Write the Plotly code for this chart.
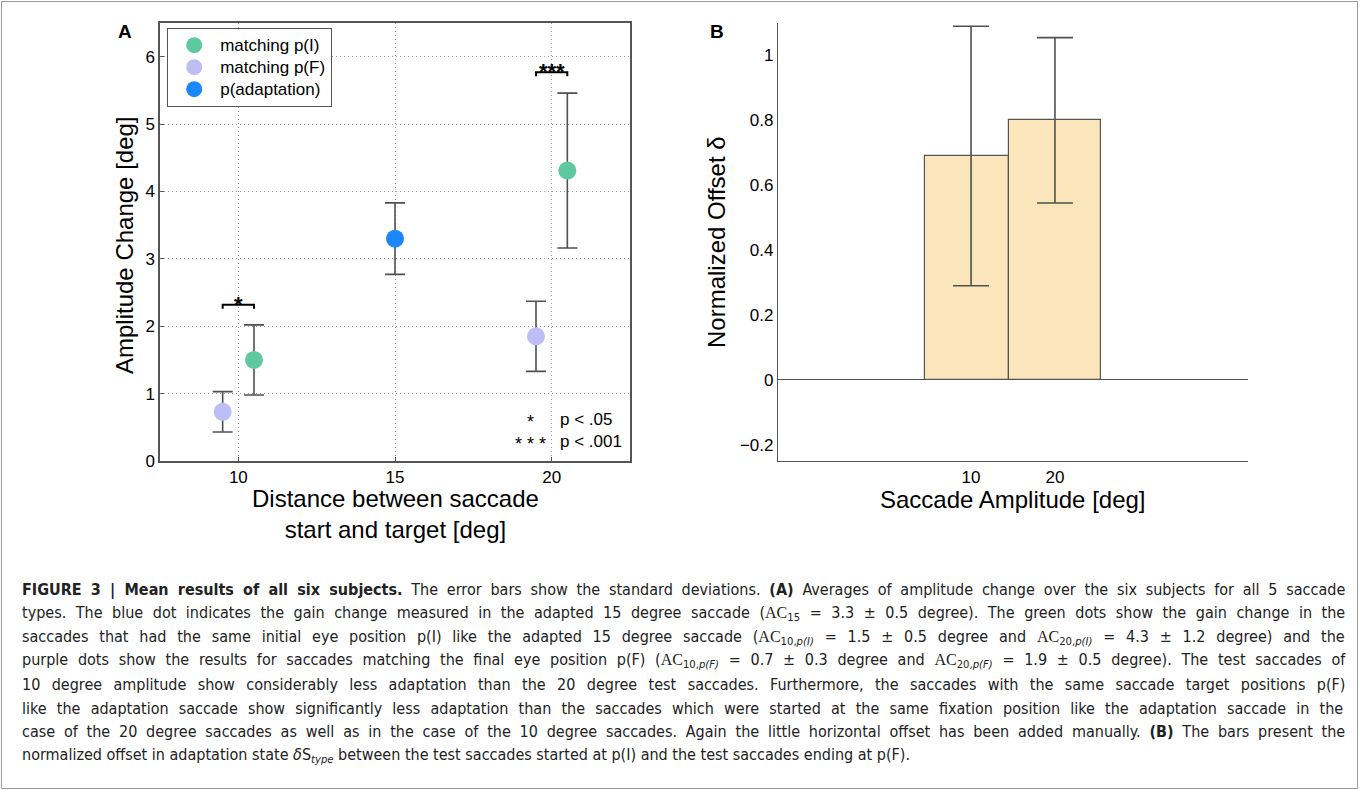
import re
import plotly.graph_objects as go

W, H = 1360, 790

# ---------------- Panel A data ----------------
pI_x = [10.5, 20.5]
pI_y = [1.50, 4.31]
pI_err = [0.52, 1.15]

pF_x = [9.5, 19.5]
pF_y = [0.73, 1.85]
pF_err = [0.30, 0.52]

adapt_x = [15]
adapt_y = [3.30]
adapt_err = [0.53]

sig_x0 = [9.5, 19.5]
sig_x1 = [10.5, 20.5]
sig_y = [2.32, 5.77]
sig_labels = ["*", "***"]

a_xticks = [10, 15, 20]
a_yticks = [0, 1, 2, 3, 4, 5, 6]

# ---------------- Panel B data ----------------
b_x = [10, 20]
b_y = [0.69, 0.80]
b_err = [0.40, 0.255]
b_width = [10, 11]
b_yticks = [-0.2, 0, 0.2, 0.4, 0.6, 0.8, 1]
b_yticktext = ["\u22120.2", "0", "0.2", "0.4", "0.6", "0.8", "1"]

# ---------------- Caption ----------------
SER = "<span style='font-family:Liberation Serif'>AC</span>"
caption_lines = [
    "<b>FIGURE 3 | Mean results of all six subjects.</b> The error bars show the standard deviations. <b>(A)</b> Averages of amplitude change over the six subjects for all 5 saccade",
    "types. The blue dot indicates the gain change measured in the adapted 15 degree saccade (" + SER + "<sub>15</sub> = 3.3 ± 0.5 degree). The green dots show the gain change in the",
    "saccades that had the same initial eye position p(I) like the adapted 15 degree saccade (" + SER + "<sub>10,<i>p(I)</i></sub> = 1.5 ± 0.5 degree and " + SER + "<sub>20,<i>p(I)</i></sub> = 4.3 ± 1.2 degree) and the",
    "purple dots show the results for saccades matching the final eye position p(F) (" + SER + "<sub>10,<i>p(F)</i></sub> = 0.7 ± 0.3 degree and " + SER + "<sub>20,<i>p(F)</i></sub> = 1.9 ± 0.5 degree). The test saccades of",
    "10 degree amplitude show considerably less adaptation than the 20 degree test saccades. Furthermore, the saccades with the same saccade target positions p(F)",
    "like the adaptation saccade show significantly less adaptation than the saccades which were started at the same fixation position like the adaptation saccade in the",
    "case of the 20 degree saccades as well as in the case of the 10 degree saccades. Again the little horizontal offset has been added manually. <b>(B)</b> The bars present the",
    "normalized offset in adaptation state <i>δ</i>S<sub><i>type</i></sub> between the test saccades started at p(I) and the test saccades ending at p(F).",
]
# approximate natural rendered widths (px) at the caption font, used to justify lines
caption_natural_w = [1207, 1181, 1144, 1176, 1175, 1190, 1198, 889]
caption_justify = [True, True, True, True, True, True, True, False]

FONT = "Liberation Sans, Arial, Helvetica, sans-serif"
CAPFONT = "Liberation Sans Narrow, DejaVu Sans Condensed, Arial Narrow, sans-serif"
ERRC = "#505050"

GREEN = "#5ec9a0"
LAV = "#bebef7"
BLUE = "#1a88fb"

fig = go.Figure()

def err(arr):
    return dict(type="data", array=arr, color=ERRC, thickness=1.6, width=10)

def lname(s):
    return "<span style='font-size:17px'>" + s + "</span>"

fig.add_trace(go.Scatter(x=pI_x, y=pI_y, mode="markers", name=lname("matching p(I)"),
                         marker=dict(color=GREEN, size=18), error_y=err(pI_err),
                         xaxis="x", yaxis="y"))
fig.add_trace(go.Scatter(x=pF_x, y=pF_y, mode="markers", name=lname("matching p(F)"),
                         marker=dict(color=LAV, size=18), error_y=err(pF_err),
                         xaxis="x", yaxis="y"))
fig.add_trace(go.Scatter(x=adapt_x, y=adapt_y, mode="markers", name=lname("p(adaptation)"),
                         marker=dict(color=BLUE, size=18), error_y=err(adapt_err),
                         xaxis="x", yaxis="y"))

# significance brackets
for x0, x1, yv, lab in zip(sig_x0, sig_x1, sig_y, sig_labels):
    fig.add_trace(go.Scatter(x=[x0, x0, x1, x1], y=[yv - 0.06, yv, yv, yv - 0.06],
                             mode="lines", line=dict(color="black", width=2),
                             showlegend=False, hoverinfo="skip", xaxis="x", yaxis="y"))
    fig.add_annotation(x=(x0 + x1) / 2, y=yv, xref="x", yref="y", text="<b>" + lab + "</b>",
                       showarrow=False, xanchor="center", yanchor="bottom", yshift=-14,
                       font=dict(family=FONT, size=22, color="black"))

# p-value key
fig.add_annotation(x=19.87, y=0.58, xref="x", yref="y", text="*", showarrow=False,
                   xanchor="right", yanchor="middle", xshift=-12, font=dict(family=FONT, size=18, color="black"))
fig.add_annotation(x=19.87, y=0.25, xref="x", yref="y", text="* * *", showarrow=False,
                   xanchor="right", yanchor="middle", font=dict(family=FONT, size=18, color="black"))
fig.add_annotation(x=20.2, y=0.61, xref="x", yref="y", text="p < .05", showarrow=False,
                   xanchor="left", yanchor="middle", font=dict(family=FONT, size=17, color="black"))
fig.add_annotation(x=20.2, y=0.29, xref="x", yref="y", text="p < .001", showarrow=False,
                   xanchor="left", yanchor="middle", font=dict(family=FONT, size=17, color="black"))

# Panel B bars
fig.add_trace(go.Bar(x=b_x, y=b_y, width=b_width, offset=-5.5,
                     marker=dict(color="#fbe5ba", line=dict(color="#555555", width=1.2)),
                     showlegend=False, xaxis="x2", yaxis="y2"))
fig.add_trace(go.Scatter(x=b_x, y=b_y, mode="markers", marker=dict(size=1, opacity=0),
                         error_y=dict(type="data", array=b_err, color=ERRC, thickness=1.6, width=18),
                         showlegend=False, hoverinfo="skip", xaxis="x2", yaxis="y2"))

def px(xp):
    return xp / W

def py(yp):
    return 1 - yp / H

axis_font = dict(family=FONT, size=17, color="black")
GRID = dict(showgrid=True, gridcolor="#a0a0a0", griddash="1px,3px", gridwidth=1)

fig.update_layout(
    width=W, height=H,
    margin=dict(l=0, r=0, t=0, b=0, pad=0, autoexpand=False),
    paper_bgcolor="white", plot_bgcolor="white",
    font=dict(family=FONT, color="black"),
    xaxis=dict(domain=[px(160), px(630)], range=[7.5, 22.5], tickvals=a_xticks, **GRID,
               zeroline=False, showline=True, mirror=True, linecolor="#555555", linewidth=1.5,
               ticks="inside", ticklen=4, tickcolor="#555555", tickfont=axis_font, anchor="y",
               automargin=False),
    yaxis=dict(domain=[py(461), py(23)], range=[0, 6.5], tickvals=a_yticks, **GRID,
               zeroline=False, showline=True, mirror=True, linecolor="#555555", linewidth=1.5,
               ticks="inside", ticklen=4, tickcolor="#555555", tickfont=axis_font, anchor="x",
               automargin=False),
    xaxis2=dict(domain=[px(778), px(1248)], range=[-13, 43], tickvals=b_x,
                showgrid=False, zeroline=False, showline=True, linecolor="#555555", linewidth=1.2,
                ticks="", tickfont=axis_font, anchor="y2", automargin=False),
    yaxis2=dict(domain=[py(461), py(23)], range=[-0.25, 1.1], tickvals=b_yticks, ticktext=b_yticktext,
                showgrid=False, zeroline=True, zerolinecolor="#555555", zerolinewidth=1.2,
                showline=True, linecolor="#555555", linewidth=1.2,
                ticks="", tickfont=axis_font, anchor="x2", automargin=False),
    legend=dict(x=px(167), y=py(28), xanchor="left", yanchor="top",
                bgcolor="white", bordercolor="#555555", borderwidth=1.2, itemwidth=42,
                font=dict(family=FONT, size=14.6, color="black"), tracegroupgap=0),
    bargap=0,
)

def label(x, y, text, size, angle=0, bold=False):
    fig.add_annotation(x=px(x), y=py(y), xref="paper", yref="paper",
                       text=("<b>" + text + "</b>") if bold else text, textangle=angle,
                       showarrow=False, xanchor="center", yanchor="middle", align="center",
                       font=dict(family=FONT, size=size, color="black"))

# axis titles and panel letters
label(395, 514, "Distance between saccade<br>start and target [deg]", 24)
label(124, 245, "Amplitude Change [deg]", 24, angle=-90)
label(1013, 499, "Saccade Amplitude [deg]", 24)
label(716, 242, "Normalized Offset \u03b4", 24, angle=-90)
label(125, 32, "A", 19, bold=True)
label(717, 32, "B", 19, bold=True)

# caption (justified via word-spacing)
cap_y0 = 590
cap_dy = 23.6
cap_target_w = 1325
for i, line in enumerate(caption_lines):
    plain = re.sub(r"<[^>]+>", "", line)
    nsp = plain.count(" ")
    txt = line
    if caption_justify[i] and nsp > 0:
        ws = (cap_target_w - caption_natural_w[i]) / nsp
        txt = "<span style='word-spacing:%.2fpx'>" % ws + line + "</span>"
    fig.add_annotation(x=px(20), y=py(cap_y0 + i * cap_dy), xref="paper", yref="paper",
                       text=txt, showarrow=False, xanchor="left", yanchor="middle", align="left",
                       font=dict(family=CAPFONT, size=16, color="#222222"))

# outer frame
fig.add_shape(type="rect", xref="paper", yref="paper", x0=px(1.5), x1=px(1357.5), y0=py(788.5), y1=py(1.5),
              line=dict(color="#999999", width=1))

post = (
    "document.body.style.margin='0';"
    "document.documentElement.style.overflow='hidden';"
    "document.body.style.overflow='hidden';"
    "var gd=document.getElementById('{plot_id}');"
    "gd.style.position='fixed';gd.style.left='0px';gd.style.top='0px';"
)
fig.write_html("out.html", config={"displayModeBar": False}, post_script=post)
